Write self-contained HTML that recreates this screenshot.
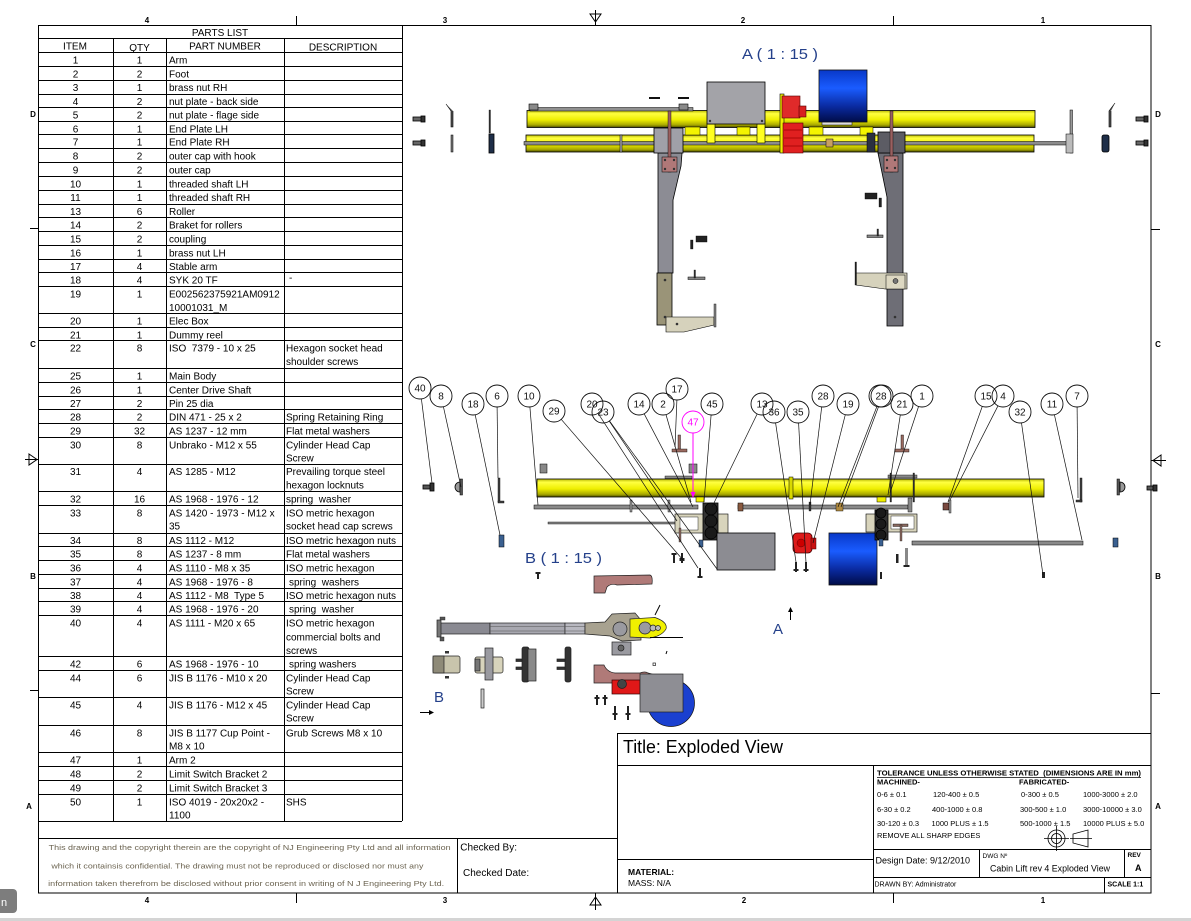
<!DOCTYPE html>
<html><head><meta charset="utf-8"><title>Cabin Lift rev 4 Exploded View</title>
<style>
html,body{margin:0;padding:0;background:#fff;}
svg{display:block;}
.t{font-family:"Liberation Sans",sans-serif;font-size:10px;fill:#000;}
.m{text-anchor:middle;}
.z{font-family:"Liberation Sans",sans-serif;font-size:8px;font-weight:bold;fill:#000;text-anchor:middle;}
.b{font-family:"Liberation Sans",sans-serif;font-size:10px;fill:#111;text-anchor:middle;}
.s{font-family:"Liberation Sans",sans-serif;font-size:7.5px;fill:#000;}
.lb{font-family:"Liberation Sans",sans-serif;font-size:15px;fill:#24408a;}
</style></head>
<body>
<svg width="1191" height="921" viewBox="0 0 1191 921" xmlns="http://www.w3.org/2000/svg">
<defs>
<linearGradient id="yel" x1="0" y1="0" x2="0" y2="1">
<stop offset="0" stop-color="#b8b800"/><stop offset=".18" stop-color="#ffff40"/><stop offset=".55" stop-color="#eeee00"/><stop offset=".85" stop-color="#a8a800"/><stop offset="1" stop-color="#4a4a00"/>
</linearGradient>
<linearGradient id="blu" x1="0" y1="0" x2="0" y2="1">
<stop offset="0" stop-color="#0838c8"/><stop offset=".35" stop-color="#1a5cff"/><stop offset=".7" stop-color="#0a2aa0"/><stop offset="1" stop-color="#000c48"/>
</linearGradient>
</defs>
<rect width="1191" height="921" fill="#fff"/>

<!-- ===== FRAME ===== -->
<g stroke="#000" stroke-width="1" fill="none" shape-rendering="crispEdges">
<rect x="38.5" y="25.5" width="1112.5" height="867.5"/>
<path d="M296.5 16V25 M893.5 16V25 M296.5 893V903 M893.5 893V903 M30 228.5H38 M30 690.5H38 M1151 229.5H1160 M1151 693.5H1160"/>
</g>
<g stroke="#000" stroke-width="1" fill="none">
<path d="M595.5 10V25 M590 14 L595.5 22 L601 14 Z"/>
<path d="M595.5 893V910 M590 905 L595.5 897 L601 905 Z"/>
<path d="M25 459.5H38 M29 454 L37 459.5 L29 465 Z"/>
<path d="M1151 460.5H1166 M1161 455 L1153 460.5 L1161 466 Z"/>
</g>
<text class="z" x="147" y="23">4</text><text class="z" x="445" y="23">3</text><text class="z" x="743" y="23">2</text><text class="z" x="1043" y="23">1</text>
<text class="z" x="147" y="903">4</text><text class="z" x="445" y="903">3</text><text class="z" x="744" y="903">2</text><text class="z" x="1043" y="903">1</text>
<text class="z" x="33" y="117">D</text><text class="z" x="33" y="347">C</text><text class="z" x="33" y="579">B</text><text class="z" x="29" y="809">A</text>
<text class="z" x="1158" y="117">D</text><text class="z" x="1158" y="347">C</text><text class="z" x="1158" y="579">B</text><text class="z" x="1158" y="809">A</text>

<!-- ===== PARTS LIST GRID ===== -->
<g stroke="#000" stroke-width="1" fill="none" shape-rendering="crispEdges">
<path d="M402.5 25V821"/>
<path d="M113.5 39V821 M166.5 39V821 M284.5 39V821"/>
<path d="M38 38.5H402 M38 52.5H402 M38 66.5H402 M38 80.5H402 M38 94.5H402 M38 107.5H402 M38 121.5H402 M38 134.5H402 M38 148.5H402 M38 162.5H402 M38 176.5H402 M38 190.5H402 M38 204.5H402 M38 217.5H402 M38 231.5H402 M38 245.5H402 M38 259.5H402 M38 272.5H402 M38 286.5H402 M38 313.5H402 M38 327.5H402 M38 340.5H402 M38 368.5H402 M38 382.5H402 M38 396.5H402 M38 409.5H402 M38 423.5H402 M38 437.5H402 M38 464.5H402 M38 491.5H402 M38 505.5H402 M38 533.5H402 M38 546.5H402 M38 560.5H402 M38 574.5H402 M38 588.5H402 M38 601.5H402 M38 615.5H402 M38 656.5H402 M38 670.5H402 M38 697.5H402 M38 725.5H402 M38 752.5H402 M38 766.5H402 M38 780.5H402 M38 794.5H402 M38 821.5H402"/>
</g>

<!-- ===== PARTS LIST TEXT ===== -->
<g class="t">
<text class="t m" x="220" y="36">PARTS LIST</text>
<text class="t m" x="75" y="49.5">ITEM</text><text class="t m" x="139.5" y="51">QTY</text><text class="t m" x="225" y="49.5">PART NUMBER</text><text class="t m" x="343" y="50.5">DESCRIPTION</text>

<text class="t m" x="75.5" y="63.3">1</text><text class="t m" x="139.5" y="63.3">1</text><text class="t" x="169" y="63.3">Arm</text>
<text class="t m" x="75.5" y="77.3">2</text><text class="t m" x="139.5" y="77.3">2</text><text class="t" x="169" y="77.3">Foot</text>
<text class="t m" x="75.5" y="91">3</text><text class="t m" x="139.5" y="91">1</text><text class="t" x="169" y="91">brass nut RH</text>
<text class="t m" x="75.5" y="105">4</text><text class="t m" x="139.5" y="105">2</text><text class="t" x="169" y="105">nut plate - back side</text>
<text class="t m" x="75.5" y="118.3">5</text><text class="t m" x="139.5" y="118.3">2</text><text class="t" x="169" y="118.3">nut plate - flage side</text>
<text class="t m" x="75.5" y="132.3">6</text><text class="t m" x="139.5" y="132.3">1</text><text class="t" x="169" y="132.3">End Plate LH</text>
<text class="t m" x="75.5" y="145.7">7</text><text class="t m" x="139.5" y="145.7">1</text><text class="t" x="169" y="145.7">End Plate RH</text>
<text class="t m" x="75.5" y="159.7">8</text><text class="t m" x="139.5" y="159.7">2</text><text class="t" x="169" y="159.7">outer cap with hook</text>
<text class="t m" x="75.5" y="173.3">9</text><text class="t m" x="139.5" y="173.3">2</text><text class="t" x="169" y="173.3">outer cap</text>
<text class="t m" x="75.5" y="187.3">10</text><text class="t m" x="139.5" y="187.3">1</text><text class="t" x="169" y="187.3">threaded shaft LH</text>
<text class="t m" x="75.5" y="201">11</text><text class="t m" x="139.5" y="201">1</text><text class="t" x="169" y="201">threaded shaft RH</text>
<text class="t m" x="75.5" y="215">13</text><text class="t m" x="139.5" y="215">6</text><text class="t" x="169" y="215">Roller</text>
<text class="t m" x="75.5" y="228.7">14</text><text class="t m" x="139.5" y="228.7">2</text><text class="t" x="169" y="228.7">Braket for rollers</text>
<text class="t m" x="75.5" y="242.3">15</text><text class="t m" x="139.5" y="242.3">2</text><text class="t" x="169" y="242.3">coupling</text>
<text class="t m" x="75.5" y="256.3">16</text><text class="t m" x="139.5" y="256.3">1</text><text class="t" x="169" y="256.3">brass nut LH</text>
<text class="t m" x="75.5" y="270">17</text><text class="t m" x="139.5" y="270">4</text><text class="t" x="169" y="270">Stable arm</text>
<text class="t m" x="75.5" y="283.7">18</text><text class="t m" x="139.5" y="283.7">4</text><text class="t" x="169" y="283.7">SYK 20 TF</text><text class="t" x="289" y="281">-</text>
<text class="t m" x="75.5" y="297.7">19</text><text class="t m" x="139.5" y="297.7">1</text><text class="t" x="169" y="297.7">E002562375921AM0912</text><text class="t" x="169" y="311">10001031_M</text>
<text class="t m" x="75.5" y="324.3">20</text><text class="t m" x="139.5" y="324.3">1</text><text class="t" x="169" y="324.3">Elec Box</text>
<text class="t m" x="75.5" y="338.3">21</text><text class="t m" x="139.5" y="338.3">1</text><text class="t" x="169" y="338.3">Dummy reel</text>
<text class="t m" x="75.5" y="351.7">22</text><text class="t m" x="139.5" y="351.7">8</text><text class="t" x="169" y="351.7" xml:space="preserve">ISO  7379 - 10 x 25</text><text class="t" x="286" y="351.7">Hexagon socket head</text><text class="t" x="286" y="365">shoulder screws</text>
<text class="t m" x="75.5" y="379.3">25</text><text class="t m" x="139.5" y="379.3">1</text><text class="t" x="169" y="379.3">Main Body</text>
<text class="t m" x="75.5" y="393.3">26</text><text class="t m" x="139.5" y="393.3">1</text><text class="t" x="169" y="393.3">Center Drive Shaft</text>
<text class="t m" x="75.5" y="407">27</text><text class="t m" x="139.5" y="407">2</text><text class="t" x="169" y="407">Pin 25 dia</text>
<text class="t m" x="75.5" y="420.7">28</text><text class="t m" x="139.5" y="420.7">2</text><text class="t" x="169" y="420.7">DIN 471 - 25 x 2</text><text class="t" x="286" y="420.7">Spring Retaining Ring</text>
<text class="t m" x="75.5" y="434.3">29</text><text class="t m" x="139.5" y="434.3">32</text><text class="t" x="169" y="434.3">AS 1237 - 12 mm</text><text class="t" x="286" y="434.3">Flat metal washers</text>
<text class="t m" x="75.5" y="448.3">30</text><text class="t m" x="139.5" y="448.3">8</text><text class="t" x="169" y="448.3">Unbrako - M12 x 55</text><text class="t" x="286" y="448.3">Cylinder Head Cap</text><text class="t" x="286" y="461.6">Screw</text>
<text class="t m" x="75.5" y="475">31</text><text class="t m" x="139.5" y="475">4</text><text class="t" x="169" y="475">AS 1285 - M12</text><text class="t" x="286" y="475">Prevailing torque steel</text><text class="t" x="286" y="488.3">hexagon locknuts</text>
<text class="t m" x="75.5" y="502.7">32</text><text class="t m" x="139.5" y="502.7">16</text><text class="t" x="169" y="502.7">AS 1968 - 1976 - 12</text><text class="t" x="286" y="502.7" xml:space="preserve">spring  washer</text>
<text class="t m" x="75.5" y="516.3">33</text><text class="t m" x="139.5" y="516.3">8</text><text class="t" x="169" y="516.3">AS 1420 - 1973 - M12 x</text><text class="t" x="169" y="529.6">35</text><text class="t" x="286" y="516.3">ISO metric hexagon</text><text class="t" x="286" y="529.6">socket head cap screws</text>
<text class="t m" x="75.5" y="544">34</text><text class="t m" x="139.5" y="544">8</text><text class="t" x="169" y="544">AS 1112 - M12</text><text class="t" x="286" y="544">ISO metric hexagon nuts</text>
<text class="t m" x="75.5" y="557.7">35</text><text class="t m" x="139.5" y="557.7">8</text><text class="t" x="169" y="557.7">AS 1237 - 8 mm</text><text class="t" x="286" y="557.7">Flat metal washers</text>
<text class="t m" x="75.5" y="571.7">36</text><text class="t m" x="139.5" y="571.7">4</text><text class="t" x="169" y="571.7">AS 1110 - M8 x 35</text><text class="t" x="286" y="571.7">ISO metric hexagon</text>
<text class="t m" x="75.5" y="585.3">37</text><text class="t m" x="139.5" y="585.3">4</text><text class="t" x="169" y="585.3">AS 1968 - 1976 - 8</text><text class="t" x="289" y="585.3" xml:space="preserve">spring  washers</text>
<text class="t m" x="75.5" y="599">38</text><text class="t m" x="139.5" y="599">4</text><text class="t" x="169" y="599" xml:space="preserve">AS 1112 - M8  Type 5</text><text class="t" x="286" y="599">ISO metric hexagon nuts</text>
<text class="t m" x="75.5" y="612.7">39</text><text class="t m" x="139.5" y="612.7">4</text><text class="t" x="169" y="612.7">AS 1968 - 1976 - 20</text><text class="t" x="289" y="612.7" xml:space="preserve">spring  washer</text>
<text class="t m" x="75.5" y="626.5">40</text><text class="t m" x="139.5" y="626.5">4</text><text class="t" x="169" y="626.5">AS 1111 - M20 x 65</text><text class="t" x="286" y="626.5">ISO metric hexagon</text><text class="t" x="286" y="640.3">commercial bolts and</text><text class="t" x="286" y="654">screws</text>
<text class="t m" x="75.5" y="667.3">42</text><text class="t m" x="139.5" y="667.3">6</text><text class="t" x="169" y="667.3">AS 1968 - 1976 - 10</text><text class="t" x="289" y="667.3">spring washers</text>
<text class="t m" x="75.5" y="681.3">44</text><text class="t m" x="139.5" y="681.3">6</text><text class="t" x="169" y="681.3">JIS B 1176 - M10 x 20</text><text class="t" x="286" y="681.3">Cylinder Head Cap</text><text class="t" x="286" y="694.6">Screw</text>
<text class="t m" x="75.5" y="708.3">45</text><text class="t m" x="139.5" y="708.3">4</text><text class="t" x="169" y="708.3">JIS B 1176 - M12 x 45</text><text class="t" x="286" y="708.3">Cylinder Head Cap</text><text class="t" x="286" y="721.6">Screw</text>
<text class="t m" x="75.5" y="736.3">46</text><text class="t m" x="139.5" y="736.3">8</text><text class="t" x="169" y="736.3">JIS B 1177 Cup Point -</text><text class="t" x="169" y="749.6">M8 x 10</text><text class="t" x="286" y="736.3">Grub Screws M8 x 10</text>
<text class="t m" x="75.5" y="763.3">47</text><text class="t m" x="139.5" y="763.3">1</text><text class="t" x="169" y="763.3">Arm 2</text>
<text class="t m" x="75.5" y="777.3">48</text><text class="t m" x="139.5" y="777.3">2</text><text class="t" x="169" y="777.3">Limit Switch Bracket 2</text>
<text class="t m" x="75.5" y="791.3">49</text><text class="t m" x="139.5" y="791.3">2</text><text class="t" x="169" y="791.3">Limit Switch Bracket 3</text>
<text class="t m" x="75.5" y="805.3">50</text><text class="t m" x="139.5" y="805.3">1</text><text class="t" x="169" y="805.3">ISO 4019 - 20x20x2 -</text><text class="t" x="169" y="818.6">1100</text><text class="t" x="286" y="805.3">SHS</text>
</g>

<!-- ===== COPYRIGHT / CHECKED ===== -->
<g stroke="#000" stroke-width="1" fill="none" shape-rendering="crispEdges">
<path d="M38 838.5H617 M457.5 838V893"/>
</g>
<g font-family="Liberation Sans, sans-serif" font-size="7px" fill="#6b6350">
<text x="48.6" y="850" textLength="402" lengthAdjust="spacingAndGlyphs">This drawing and the copyright therein are the copyright of NJ Engineering Pty Ltd and all information</text>
<text x="51.4" y="868.5" textLength="372" lengthAdjust="spacingAndGlyphs"> which it containsis confidential. The drawing must not be reproduced or disclosed nor must any</text>
<text x="48.2" y="886" textLength="396" lengthAdjust="spacingAndGlyphs">information taken therefrom be disclosed without prior consent in writing of N J Engineering Pty Ltd.</text>
</g>
<text class="t" x="460.3" y="850.5" font-size="9.5px">Checked By:</text>
<text class="t" x="463" y="876" font-size="9.5px">Checked Date:</text>

<!-- ===== TITLE BLOCK ===== -->
<g stroke="#000" stroke-width="1" fill="none" shape-rendering="crispEdges">
<rect x="617.5" y="733.5" width="533.5" height="159.5"/>
<path d="M617 765.5H1151 M873.5 765V893 M617 859.5H873 M873 849.5H1151 M979.5 849V877 M1124.5 849V877 M873 877.5H1151 M1104.5 877V893"/>
</g>
<text x="623" y="753" font-family="Liberation Sans, sans-serif" font-size="18px" fill="#000" textLength="160" lengthAdjust="spacingAndGlyphs">Title: Exploded View</text>
<g font-family="Liberation Sans, sans-serif" fill="#000">
<text x="877" y="775.5" font-size="7.5px" font-weight="bold" textLength="264" lengthAdjust="spacingAndGlyphs" xml:space="preserve">TOLERANCE UNLESS OTHERWISE STATED  (DIMENSIONS ARE IN mm)</text>
<path d="M877 777.5H1141" stroke="#000" stroke-width=".8"/>
<text x="877" y="784.5" font-size="7.5px" font-weight="bold">MACHINED-</text>
<text x="1019" y="784.5" font-size="7.5px" font-weight="bold">FABRICATED-</text>
<g font-size="7.5px">
<text x="877" y="797">0-6 ± 0.1</text><text x="933" y="797">120-400 ± 0.5</text><text x="1021" y="797">0-300 ± 0.5</text><text x="1083" y="797">1000-3000 ± 2.0</text>
<text x="877" y="812">6-30 ± 0.2</text><text x="932" y="812">400-1000 ± 0.8</text><text x="1020" y="812">300-500 ± 1.0</text><text x="1083" y="812">3000-10000 ± 3.0</text>
<text x="877" y="826">30-120 ± 0.3</text><text x="931.5" y="826">1000 PLUS ± 1.5</text><text x="1020" y="826">500-1000 ± 1.5</text><text x="1083" y="826">10000 PLUS ± 5.0</text>
<text x="877" y="838">REMOVE ALL SHARP EDGES</text>
</g>
<g stroke="#000" stroke-width=".8" fill="none">
<circle cx="1056.5" cy="838.5" r="8.5"/><circle cx="1056.5" cy="838.5" r="5"/>
<path d="M1044 838.5H1069 M1056.5 826V851"/>
<path d="M1073 834V843 L1088 847V830 Z M1070 838.5H1092"/>
</g>
<text x="875.5" y="863.5" font-size="9px">Design Date: 9/12/2010</text>
<text x="982.5" y="858" font-size="6.5px">DWG Nº</text>
<text x="990" y="871.5" font-size="9px" textLength="120" lengthAdjust="spacingAndGlyphs">Cabin Lift rev 4 Exploded View</text>
<text x="1127.5" y="857" font-size="6.5px" font-weight="bold">REV</text>
<text x="1135" y="871" font-size="9px" font-weight="bold">A</text>
<text x="874.5" y="886.5" font-size="7px">DRAWN BY: Administrator</text>
<text x="1107.5" y="886.5" font-size="7px" font-weight="bold">SCALE 1:1</text>
<text x="628" y="875" font-size="8.5px" font-weight="bold">MATERIAL:</text>
<text x="628" y="886" font-size="8.5px">MASS: N/A</text>
</g>

<!-- ===== VIEW A ===== -->
<text class="lb" x="742" y="59" textLength="76" lengthAdjust="spacingAndGlyphs">A ( 1 : 15 )</text>
<g stroke="#000" stroke-width=".8">
<!-- left small parts -->
<rect x="413" y="117" width="9" height="4" fill="#666"/><rect x="421" y="116" width="4" height="6" fill="#333"/>
<rect x="413" y="141" width="9" height="4" fill="#666"/><rect x="421" y="140" width="4" height="6" fill="#333"/>
<path d="M446 104 L451 111 V127 H453 V111" fill="#555" stroke-width=".6"/>
<rect x="451" y="135" width="2" height="17" fill="#777" stroke-width=".5"/>
<rect x="489" y="110" width="1.5" height="23" fill="#333" stroke-width=".3"/>
<rect x="489" y="134" width="5" height="19" fill="#1e2e48"/>
<rect x="649" y="97" width="11" height="2" fill="#111" stroke="none"/>
<rect x="678" y="97" width="11" height="2" fill="#111" stroke="none"/>
<!-- tubes -->
<rect x="527" y="110.5" width="508" height="17" fill="url(#yel)"/>
<rect x="530" y="107.5" width="163" height="3.5" fill="#909090" stroke-width=".5"/>
<rect x="529" y="104" width="9" height="6" fill="#8a8a8a" stroke-width=".6"/>
<rect x="679" y="104" width="9" height="6" fill="#8a8a8a" stroke-width=".6"/>
<rect x="526" y="135" width="508" height="17" fill="url(#yel)"/>
<rect x="685" y="127" width="15" height="8" fill="#f4f400" stroke-width=".5"/>
<rect x="737" y="127" width="13" height="8" fill="#f4f400" stroke-width=".5"/>
<rect x="809" y="127" width="14" height="8" fill="#f4f400" stroke-width=".5"/>
<rect x="860" y="127" width="13" height="8" fill="#f4f400" stroke-width=".5"/>
<rect x="524" y="141.5" width="548" height="3.5" fill="#8c8c8c" stroke-width=".5"/>
<rect x="620" y="135" width="2" height="17" fill="#aaa" stroke-width=".5"/>
<rect x="826" y="139" width="7" height="8" fill="#c8a060" stroke-width=".5"/>
<!-- elec box -->
<rect x="707" y="124" width="8" height="19" fill="#ffff20" stroke-width=".6"/>
<rect x="757" y="124" width="8" height="19" fill="#ffff20" stroke-width=".6"/>
<rect x="707" y="82" width="58" height="42" fill="#a3a3a8"/>
<!-- motor -->
<rect x="780" y="94" width="4" height="59" fill="#f0f000" stroke-width=".6"/>
<rect x="782" y="96" width="18" height="22" fill="#e02a2a" stroke="#500" stroke-width=".6"/>
<rect x="799" y="106" width="7" height="11" fill="#d82020" stroke="#500" stroke-width=".6"/>
<rect x="783" y="123" width="20" height="30" fill="#e02020" stroke="#500" stroke-width=".6"/>
<path d="M784 130H802 M784 138H802 M784 146H802" stroke="#900" stroke-width=".8"/>
<!-- blue drum -->
<rect x="822" y="121" width="30" height="4" fill="#ddd" stroke-width=".5"/>
<rect x="819" y="70" width="48" height="52" fill="url(#blu)" stroke="#111"/>
<!-- left arm -->
<polygon points="658,153 682,153 681,166 673,200 673,273 658,273" fill="#8c8c94"/>
<rect x="654" y="128" width="29" height="25" fill="#a0a0a8"/>
<rect x="668" y="111" width="3" height="61" fill="#9a6060" stroke-width=".4"/>
<rect x="662" y="157" width="15" height="15" fill="#b07878" stroke-width=".5"/>
<rect x="657" y="273" width="15" height="52" fill="#9a9478"/>
<polygon points="666,317 714,317 714,325 684,332 666,332" fill="#d6d2bc" stroke-width=".6"/>
<rect x="714" y="304" width="2" height="23" fill="#888" stroke-width=".4"/>
<rect x="696" y="236" width="11" height="6" fill="#222" stroke-width=".4"/>
<rect x="690.5" y="240" width="2.5" height="9" fill="#222" stroke-width=".3"/>
<rect x="688" y="277" width="17" height="2.5" fill="#888" stroke-width=".5"/>
<rect x="694" y="270" width="1.5" height="8" fill="#333" stroke-width=".3"/>
<!-- right arm -->
<polygon points="878,153 903,153 903,326 887,326 887,197" fill="#6e6e76"/>
<rect x="878" y="132" width="27" height="21" fill="#5c5c64"/>
<rect x="867" y="133" width="8" height="19" fill="#2a3040" stroke-width=".5"/>
<rect x="890" y="111" width="3" height="61" fill="#9a6060" stroke-width=".4"/>
<rect x="884" y="156" width="14" height="16" fill="#b07878" stroke-width=".5"/>
<polygon points="856,273 907,273 907,289 885,289 856,285" fill="#d6d2bc" stroke-width=".6"/>
<rect x="886" y="275" width="19" height="14" fill="#ddd8c2" stroke-width=".5"/>
<circle cx="895.5" cy="281" r="2.5" fill="#777" stroke-width=".5"/>
<rect x="855" y="262" width="1.5" height="23" fill="#222" stroke-width=".3"/>
<rect x="865" y="193" width="12" height="6" fill="#222" stroke-width=".4"/>
<rect x="879" y="198" width="2.5" height="9" fill="#222" stroke-width=".3"/>
<rect x="867" y="235" width="16" height="2.5" fill="#888" stroke-width=".5"/>
<rect x="877" y="229" width="1.5" height="7" fill="#333" stroke-width=".3"/>
<!-- right end parts -->
<rect x="1070" y="110" width="2.5" height="43" fill="#999" stroke-width=".5"/>
<rect x="1066" y="134" width="7" height="19" fill="#bbb" stroke-width=".5"/>
<path d="M1115 103 L1109 111 V127 H1111 V111" fill="#555" stroke-width=".6"/>
<rect x="1102" y="135" width="7" height="17" rx="2" fill="#1e2e48"/>
<rect x="1136" y="117" width="9" height="4" fill="#666"/><rect x="1144" y="116" width="4" height="6" fill="#333"/>
<rect x="1136" y="141" width="9" height="4" fill="#666"/><rect x="1144" y="140" width="4" height="6" fill="#333"/>
</g>
<g fill="#333">
<circle cx="710" cy="121" r="1.2"/><circle cx="762" cy="121" r="1.2"/>
<circle cx="665" cy="160" r="1.2"/><circle cx="674" cy="160" r="1.2"/><circle cx="665" cy="169" r="1.2"/><circle cx="674" cy="169" r="1.2"/>
<circle cx="887" cy="160" r="1.2"/><circle cx="895" cy="160" r="1.2"/><circle cx="887" cy="168" r="1.2"/><circle cx="895" cy="168" r="1.2"/>
<circle cx="665" cy="280" r="1.3"/><circle cx="665" cy="317" r="1.3"/><circle cx="677" cy="324" r="1.3"/><circle cx="895" cy="317" r="1.3"/>
</g>

<!-- ===== EXPLODED VIEW (middle) ===== -->
<g stroke="#000" stroke-width=".8">
<!-- left small parts -->
<rect x="423" y="485" width="8" height="4" fill="#555"/><rect x="430" y="483" width="4" height="8" fill="#333"/>
<path d="M460 482 A5 5 0 0 0 460 492 Z" fill="#999"/><rect x="460" y="479" width="2.5" height="16" fill="#555" stroke-width=".5"/>
<rect x="498" y="478" width="2" height="24" fill="#444" stroke-width=".4"/><rect x="498" y="501" width="6" height="2" fill="#444" stroke-width=".4"/>
<rect x="499" y="535" width="5" height="12" fill="#3a6090" stroke-width=".5"/>
<!-- brackets & Ts on top -->
<rect x="540" y="464" width="7" height="9" fill="#888" stroke-width=".5"/>
<rect x="689" y="464" width="8" height="9" fill="#888" stroke-width=".5"/>
<rect x="678" y="435" width="2.5" height="16" fill="#9a6a60" stroke-width=".4"/><rect x="672" y="449" width="15" height="3" fill="#9a6a60" stroke-width=".4"/>
<rect x="901" y="435" width="2.5" height="16" fill="#9a6a60" stroke-width=".4"/><rect x="895" y="449" width="14" height="3" fill="#9a6a60" stroke-width=".4"/>
<rect x="665" y="476" width="27" height="2.5" fill="#888" stroke-width=".4"/>
<rect x="888" y="475" width="29" height="3" fill="#888" stroke-width=".4"/>
<!-- main tube -->
<rect x="537" y="479" width="507" height="18" fill="url(#yel)"/>
<rect x="789" y="477" width="4" height="22" fill="#d8d800" stroke-width=".5"/>
<rect x="890" y="473" width="1.5" height="29" fill="#333" stroke-width=".3"/>
<rect x="913" y="473" width="1.5" height="29" fill="#333" stroke-width=".3"/>
<rect x="696" y="497" width="8" height="5" fill="#f0f000" stroke-width=".5"/>
<rect x="877" y="497" width="9" height="5" fill="#f0f000" stroke-width=".5"/>
<!-- shafts -->
<rect x="534" y="505" width="164" height="4" fill="#8a8a8a" stroke-width=".5"/>
<rect x="630" y="500" width="2" height="12" fill="#999" stroke-width=".4"/>
<rect x="668" y="500" width="2" height="12" fill="#999" stroke-width=".4"/>
<rect x="548" y="522" width="150" height="2" fill="#888" stroke-width=".4"/>
<rect x="738" y="505" width="170" height="4" fill="#8a8a8a" stroke-width=".5"/>
<rect x="738" y="503" width="5" height="8" fill="#8a5a40" stroke-width=".5"/>
<rect x="809" y="502" width="2" height="9" fill="#333" stroke-width=".3"/>
<rect x="836" y="503" width="7" height="8" fill="#b08a40" stroke-width=".4"/>
<rect x="908" y="498" width="4" height="14" fill="#888" stroke-width=".4"/>
<!-- left roller cluster -->
<rect x="675" y="514" width="53" height="19" fill="#d8d4bc" stroke-width=".6"/>
<rect x="680" y="517" width="18" height="13" fill="#fff" stroke-width=".4"/>
<rect x="703" y="503" width="15" height="37" fill="#333"/>
<circle cx="711" cy="509" r="6" fill="#1a1a1a"/><circle cx="711" cy="521" r="6" fill="#1a1a1a"/><circle cx="711" cy="533" r="6" fill="#1a1a1a"/>
<rect x="679" y="528" width="2" height="14" fill="#8a6a60" stroke-width=".3"/>
<rect x="699" y="540" width="4" height="7" fill="#3a6090" stroke-width=".4"/>
<!-- gray box -->
<rect x="717" y="533" width="58" height="37" fill="#8c8c92"/>
<!-- red motor -->
<rect x="793" y="533" width="19" height="20" rx="4" fill="#dd1a1a" stroke="#400"/>
<rect x="811" y="538" width="5" height="11" fill="#c81010" stroke="#400" stroke-width=".5"/>
<circle cx="801" cy="543" r="4" fill="#c00" stroke="#600" stroke-width=".5"/>
<!-- blue box -->
<rect x="829" y="533" width="48" height="52" fill="url(#blu)" stroke="#111"/>
<!-- right roller cluster -->
<rect x="866" y="514" width="51" height="18" fill="#d8d4bc" stroke-width=".6"/>
<rect x="891" y="516" width="23" height="13" fill="#fff" stroke-width=".4"/>
<rect x="875" y="510" width="13" height="30" fill="#333"/>
<circle cx="881" cy="513" r="5" fill="#1a1a1a"/><circle cx="881" cy="524" r="5" fill="#1a1a1a"/><circle cx="881" cy="535" r="5" fill="#1a1a1a"/>
<rect x="893" y="524" width="15" height="2.5" fill="#8a6a60" stroke-width=".4"/><rect x="900" y="525" width="2" height="16" fill="#8a6a60" stroke-width=".3"/>
<rect x="879" y="539" width="4" height="7" fill="#3a6090" stroke-width=".4"/>
<!-- long rod -->
<rect x="912" y="541" width="171" height="4" fill="#8a8a8a" stroke-width=".5"/>
<rect x="943" y="503" width="6" height="7" fill="#7a4a40" stroke-width=".5"/>
<rect x="949" y="500" width="2" height="13" fill="#999" stroke-width=".4"/>
<!-- right small parts -->
<rect x="1080" y="478" width="2" height="24" fill="#444" stroke-width=".4"/><rect x="1076" y="500" width="6" height="2" fill="#444" stroke-width=".4"/>
<path d="M1120 482 A5 5 0 0 1 1120 492 Z" fill="#999"/><rect x="1117" y="479" width="2.5" height="16" fill="#555" stroke-width=".5"/>
<rect x="1147" y="486" width="7" height="4" fill="#555"/><rect x="1153" y="485" width="4" height="6" fill="#333"/>
<rect x="1113" y="538" width="5" height="9" fill="#3a6090" stroke-width=".5"/>
</g>
<!-- small bolts -->
<g fill="#222">
<rect x="537" y="572" width="2" height="7"/><rect x="535.5" y="572" width="5" height="2"/>
<rect x="673" y="553" width="2" height="10"/><rect x="671.5" y="553" width="5" height="2"/>
<rect x="681" y="553" width="2" height="10"/><rect x="679.5" y="558" width="5" height="3"/>
<rect x="699" y="568" width="2" height="10"/><rect x="697.5" y="576" width="5" height="2"/>
<rect x="795" y="562" width="2" height="10"/><rect x="793.5" y="569" width="5" height="2"/>
<rect x="805" y="562" width="2" height="10"/><rect x="803.5" y="569" width="5" height="2"/>
<rect x="896" y="554" width="2.5" height="9"/>
<rect x="905" y="548" width="3" height="19" fill="#888"/><rect x="903.5" y="565" width="6" height="2"/>
<rect x="880" y="572" width="2" height="7"/>
<rect x="1042" y="572" width="3" height="6"/>
</g>

<!-- leaders -->
<g stroke="#111" stroke-width=".7" fill="none">
<line x1="421.4" y1="398.9" x2="432" y2="483"/>
<line x1="443.4" y1="406.7" x2="461" y2="487"/>
<line x1="475.2" y1="414.8" x2="500" y2="535"/>
<line x1="497.1" y1="407" x2="498" y2="478"/>
<line x1="529.9" y1="407" x2="538" y2="505"/>
<line x1="561.2" y1="419.3" x2="683" y2="560"/>
<line x1="598" y1="413.2" x2="698" y2="568"/>
<line x1="609.5" y1="420.9" x2="717" y2="569"/>
<line x1="609.2" y1="421.1" x2="677" y2="521"/>
<line x1="644.1" y1="413.7" x2="693" y2="507"/>
<line x1="666" y1="414.6" x2="691" y2="502"/>
<line x1="676.9" y1="400" x2="675" y2="447"/>
<line x1="711.1" y1="415" x2="704" y2="502"/>
<line x1="757.2" y1="413.9" x2="712" y2="507"/>
<line x1="775.6" y1="422.9" x2="796" y2="562"/>
<line x1="798.6" y1="423" x2="806" y2="563"/>
<line x1="821.7" y1="406.9" x2="810" y2="505"/>
<line x1="845.3" y1="414.7" x2="813" y2="543"/>
<line x1="877" y1="406.3" x2="838" y2="507"/>
<line x1="878.5" y1="406.8" x2="841" y2="507"/>
<line x1="900.3" y1="414.9" x2="888" y2="495"/>
<line x1="918.6" y1="406.4" x2="890" y2="493"/>
<line x1="982.3" y1="406.4" x2="948" y2="502"/>
<line x1="998" y1="405.8" x2="950" y2="500"/>
<line x1="1021.5" y1="422.9" x2="1043" y2="575"/>
<line x1="1054.4" y1="414.7" x2="1082" y2="540"/>
<line x1="1077.1" y1="407" x2="1078" y2="498"/>
</g>
<line x1="693" y1="433" x2="693" y2="497" stroke="#ff00ff" stroke-width="1"/>
<path d="M690.5 492 L693 498 L695.5 492 Z" fill="#ff00ff"/>

<!-- balloons -->
<g stroke="#111" stroke-width=".9" fill="none">
<circle cx="420" cy="388" r="11"/><circle cx="441" cy="396" r="11"/><circle cx="473" cy="404" r="11"/><circle cx="497" cy="396" r="11"/>
<circle cx="529" cy="396" r="11"/><circle cx="554" cy="411" r="11"/><circle cx="592" cy="404" r="11"/><circle cx="603" cy="412" r="11"/>
<circle cx="639" cy="404" r="11"/><circle cx="663" cy="404" r="11"/><circle cx="677" cy="389" r="11"/><circle cx="712" cy="404" r="11"/>
<circle cx="762" cy="404" r="11"/><circle cx="774" cy="412" r="11"/><circle cx="798" cy="412" r="11"/>
<circle cx="823" cy="396" r="11"/><circle cx="848" cy="404" r="11"/><circle cx="880" cy="396" r="11"/><circle cx="882" cy="396" r="11"/>
<circle cx="902" cy="404" r="11"/><circle cx="922" cy="396" r="11"/><circle cx="986" cy="396" r="11"/><circle cx="1003" cy="396" r="11"/>
<circle cx="1020" cy="412" r="11"/><circle cx="1052" cy="404" r="11"/><circle cx="1077" cy="396" r="11"/>
</g>
<circle cx="693" cy="422" r="11" fill="none" stroke="#ff00ff" stroke-width=".9"/>
<g class="b">
<text class="b" x="420" y="391.5">40</text><text class="b" x="441" y="399.5">8</text><text class="b" x="473" y="407.5">18</text><text class="b" x="497" y="399.5">6</text>
<text class="b" x="529" y="399.5">10</text><text class="b" x="554" y="414.5">29</text><text class="b" x="592" y="407.5">20</text><text class="b" x="603" y="415.5">23</text>
<text class="b" x="639" y="407.5">14</text><text class="b" x="663" y="407.5">2</text><text class="b" x="677" y="392.5">17</text><text class="b" x="712" y="407.5">45</text>
<text class="b" x="762" y="407.5">13</text><text class="b" x="774" y="415.5">36</text><text class="b" x="798" y="415.5">35</text>
<text class="b" x="823" y="399.5">28</text><text class="b" x="848" y="407.5">19</text><text class="b" x="881" y="399.5">28</text>
<text class="b" x="902" y="407.5">21</text><text class="b" x="922" y="399.5">1</text><text class="b" x="986" y="399.5">15</text><text class="b" x="1003" y="399.5">4</text>
<text class="b" x="1020" y="415.5">32</text><text class="b" x="1052" y="407.5">11</text><text class="b" x="1077" y="399.5">7</text>
</g>
<text class="b" x="693" y="425.5" style="fill:#ff00ff">47</text>

<!-- ===== VIEW B ===== -->
<text class="lb" x="525" y="563" textLength="77" lengthAdjust="spacingAndGlyphs">B ( 1 : 15 )</text>
<g stroke="#222" stroke-width=".7">
<path d="M594 576 L650 575 Q653 576 652 584 L617 585 Q611 583 607 587 L605 593 L594 593 Z" fill="#b07a78"/>
<!-- long arm -->
<rect x="440" y="623" width="50" height="11" fill="#8a8a92"/>
<rect x="490" y="623" width="75" height="11" fill="#a8a8b0"/>
<rect x="565" y="623" width="20" height="11" fill="#b8b8c0"/>
<path d="M490 626.5H585 M490 631H585" stroke="#555" stroke-width=".6"/>
<rect x="437" y="620" width="4" height="17" fill="#777"/>
<rect x="440" y="617" width="5" height="3" fill="#555" stroke-width=".4"/>
<rect x="440" y="637" width="4" height="4" fill="#555" stroke-width=".4"/>
<path d="M585 623 L605 622 L612 614 L635 613 L641 620 L641 640 L622 641 L610 636 L585 634 Z" fill="#a8a290"/>
<path d="M630 619 L655 617.5 Q668 622 666 629 Q662 636 650 638 L630 637 Z" fill="#f0f000"/>
<circle cx="620" cy="629" r="7" fill="#9a9aa0"/>
<circle cx="645" cy="628" r="6" fill="#9a9aa0"/>
<circle cx="653" cy="628" r="3" fill="#bbb"/><circle cx="658" cy="628" r="2.5" fill="#bbb"/>
<rect x="612" y="642" width="19" height="13" fill="#9a9aa0"/>
<circle cx="621" cy="648" r="3" fill="#666"/>
<line x1="650" y1="637.5" x2="683" y2="637.5" stroke="#000" stroke-width=".9"/>
<line x1="655" y1="615" x2="660" y2="605" stroke="#000" stroke-width="1"/>
<line x1="666" y1="654" x2="667" y2="651" stroke="#000" stroke-width="1"/>
<rect x="653" y="663" width="2.5" height="2.5" fill="#fff"/>
<!-- bottom row parts -->
<rect x="433" y="656" width="27" height="17" rx="2" fill="#c8c4ac"/>
<rect x="433" y="656" width="11" height="17" fill="#8e8a78"/>
<rect x="445" y="651" width="4" height="2.5" fill="#333" stroke="none"/><rect x="445" y="676" width="4" height="2.5" fill="#333" stroke="none"/>
<rect x="475" y="657" width="28" height="16" rx="2" fill="#d8d4bc"/>
<rect x="475" y="659" width="5" height="12" fill="#777"/>
<rect x="485" y="648" width="8" height="32" fill="#9a9aa0"/>
<rect x="522" y="647" width="7" height="35" rx="2" fill="#333"/>
<rect x="528" y="649" width="8" height="32" fill="#8a8a8a"/>
<rect x="516" y="659" width="6" height="2.5" fill="#333"/><rect x="516" y="667" width="6" height="2.5" fill="#333"/>
<rect x="565" y="647" width="6" height="35" rx="2" fill="#333"/>
<rect x="557" y="659" width="8" height="2.5" fill="#333"/><rect x="557" y="667" width="8" height="2.5" fill="#333"/>
<rect x="481" y="689" width="3" height="19" fill="#ccc"/>
<!-- lower cluster -->
<circle cx="671" cy="703" r="23.5" fill="#1a40d0" stroke="#111"/>
<path d="M594 665 L604 665 Q607 672 615 673 L640 673 Q645 671 648 673 L652 674 L652 683 L594 683 Z" fill="#b07a78"/>
<rect x="612" y="680" width="28" height="14" fill="#e01818" stroke="#300"/>
<circle cx="622" cy="684" r="4.5" fill="#444"/>
<rect x="640" y="674" width="43" height="38" fill="#8e8e94"/>
</g>
<g fill="#222">
<rect x="596" y="695" width="2" height="10"/><rect x="594.5" y="697" width="5" height="2"/>
<rect x="604" y="695" width="2" height="10"/><rect x="602.5" y="697" width="5" height="2"/>
<rect x="614" y="706" width="2" height="14"/><rect x="612.5" y="713" width="5" height="2"/>
<rect x="627" y="706" width="2" height="14"/><rect x="625.5" y="713" width="5" height="2"/>
</g>
<text class="lb" x="773" y="634">A</text>
<path d="M790.5 620V611" stroke="#000" stroke-width="1"/><path d="M788 612 L790.5 607 L793 612 Z" fill="#000"/>
<text class="lb" x="434" y="702">B</text>
<path d="M420 712.5H430" stroke="#000" stroke-width="1"/><path d="M429 710 L434 712.5 L429 715 Z" fill="#000"/>

<!-- overlay tab & bottom strip -->
<rect x="0" y="918" width="1191" height="3" fill="#d4d4d4"/>
<rect x="-6" y="889" width="23" height="24" rx="4" fill="#7d7d7d"/>
<text x="1" y="906" font-family="Liberation Sans, sans-serif" font-size="11px" fill="#fff">n</text>
</svg>
</body></html>
